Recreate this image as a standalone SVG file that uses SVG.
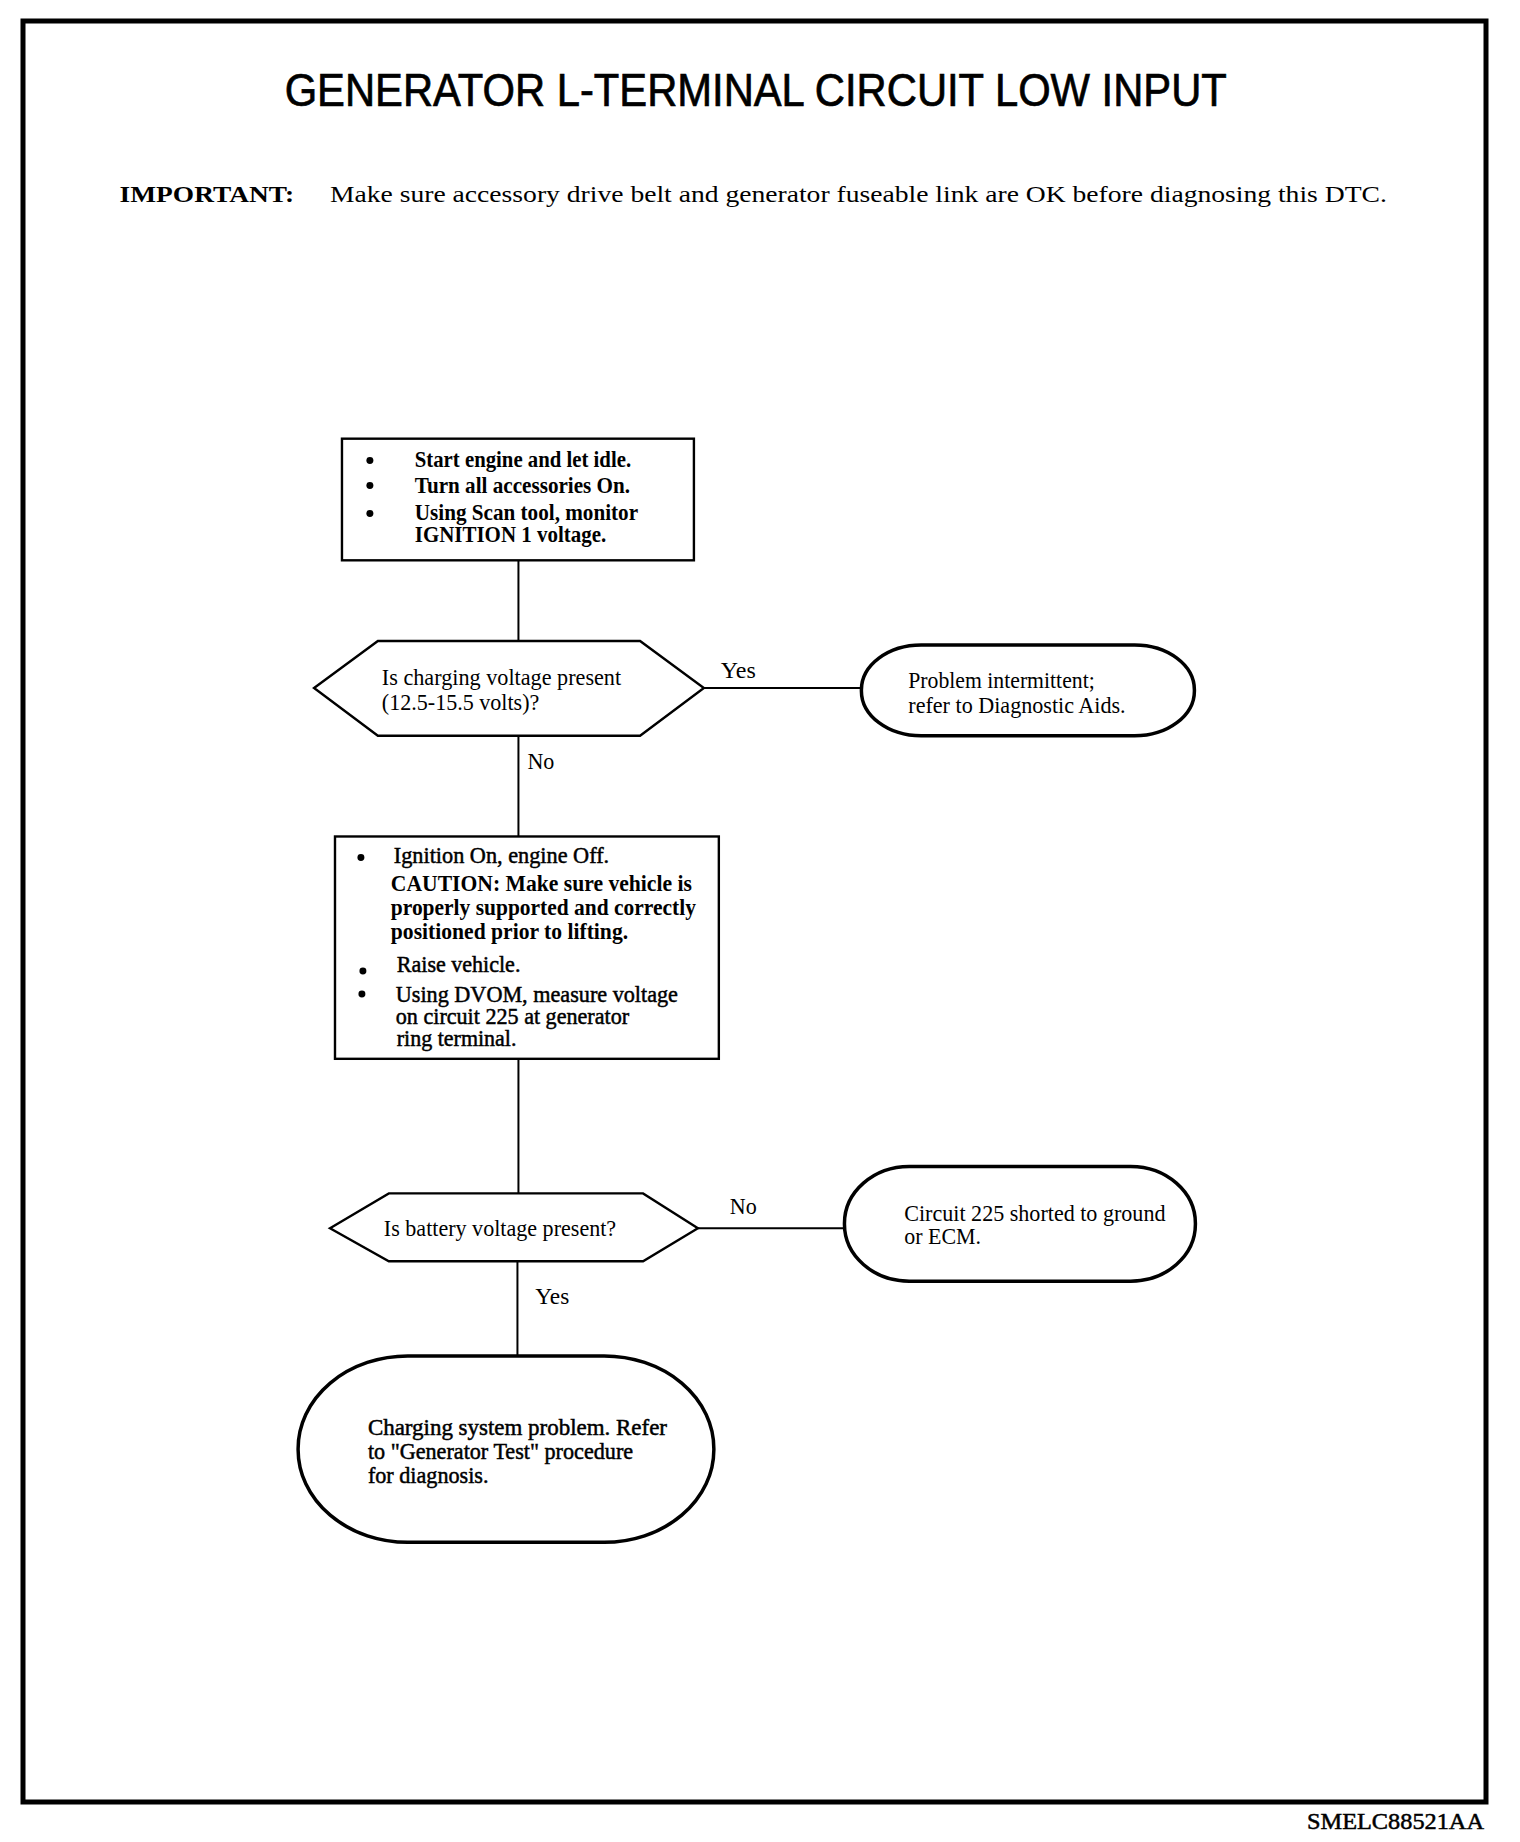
<svg xmlns="http://www.w3.org/2000/svg" width="1520" height="1842" viewBox="0 0 1520 1842">
<style>
.t{font-family:"Liberation Serif","Times New Roman",serif;font-size:23px;fill:#000}
.b{font-weight:bold}
.s{stroke:#000;stroke-width:0.5}
.box{fill:#fff;stroke:#000;stroke-width:2.4}
.term{fill:#fff;stroke:#000;stroke-width:3.5}
.con{stroke:#000;stroke-width:2;fill:none}
</style>
<rect width="1520" height="1842" fill="#fff"/>
<rect x="23" y="21" width="1463" height="1781" fill="none" stroke="#000" stroke-width="5"/>
<g transform="scale(0.997)">
<text x="758" y="106" text-anchor="middle" font-family="Liberation Sans,Arial,sans-serif" font-size="46" stroke="#000" stroke-width="0.7" textLength="945" lengthAdjust="spacingAndGlyphs">GENERATOR L-TERMINAL CIRCUIT LOW INPUT</text>
<text class="t b" x="120" y="203" font-size="29" textLength="175" lengthAdjust="spacingAndGlyphs">IMPORTANT:</text>
<text class="t" x="331" y="203" font-size="29" textLength="1060" lengthAdjust="spacingAndGlyphs">Make sure accessory drive belt and generator fuseable link are OK before diagnosing this DTC.</text>
<g id="connectors">
<line class="con" x1="520" y1="562" x2="520" y2="643"/>
<line class="con" x1="706" y1="690" x2="864" y2="690"/>
<line class="con" x1="520" y1="738" x2="520" y2="839"/>
<line class="con" x1="520" y1="1062" x2="520" y2="1197"/>
<line class="con" x1="700" y1="1232" x2="847" y2="1232"/>
<line class="con" x1="519" y1="1265" x2="519" y2="1360"/>
<text class="t" x="723" y="680" textLength="35" lengthAdjust="spacingAndGlyphs">Yes</text>
<text class="t" x="529" y="771" textLength="27" lengthAdjust="spacingAndGlyphs">No</text>
<text class="t" x="732" y="1218" textLength="27" lengthAdjust="spacingAndGlyphs">No</text>
<text class="t" x="537" y="1308" textLength="34" lengthAdjust="spacingAndGlyphs">Yes</text>
</g>
<g id="box1">
<rect class="box" x="343" y="440" width="353" height="122"/>
<circle cx="371" cy="462" r="3.5"/>
<circle cx="371" cy="487" r="3.5"/>
<circle cx="371" cy="515" r="3.5"/>
<text class="t b" x="416" y="468" textLength="217" lengthAdjust="spacingAndGlyphs">Start engine and let idle.</text>
<text class="t b" x="416" y="494" textLength="216" lengthAdjust="spacingAndGlyphs">Turn all accessories On.</text>
<text class="t b" x="416" y="522" textLength="224" lengthAdjust="spacingAndGlyphs">Using Scan tool, monitor</text>
<text class="t b" x="416" y="544" textLength="192" lengthAdjust="spacingAndGlyphs">IGNITION 1 voltage.</text>
</g>
<g id="decision1">
<polygon class="box" points="315,690 379,643 642,643 706,690 642,738 379,738"/>
<text class="t" x="383" y="687" textLength="240" lengthAdjust="spacingAndGlyphs">Is charging voltage present</text>
<text class="t" x="383" y="712" textLength="158" lengthAdjust="spacingAndGlyphs">(12.5-15.5 volts)?</text>
</g>
<g id="term1">
<rect class="term" x="864" y="647" width="334" height="91" rx="60" ry="45"/>
<text class="t" x="911" y="690" textLength="187" lengthAdjust="spacingAndGlyphs">Problem intermittent;</text>
<text class="t" x="911" y="715" textLength="218" lengthAdjust="spacingAndGlyphs">refer to Diagnostic Aids.</text>
</g>
<g id="box2">
<rect class="box" x="336" y="839" width="385" height="223"/>
<circle cx="362" cy="860" r="3.5"/>
<circle cx="364" cy="974" r="3.5"/>
<circle cx="363" cy="997" r="3.5"/>
<text class="t s" x="395" y="866" textLength="216" lengthAdjust="spacingAndGlyphs">Ignition On, engine Off.</text>
<text class="t b" x="392" y="894" textLength="302" lengthAdjust="spacingAndGlyphs">CAUTION: Make sure vehicle is</text>
<text class="t b" x="392" y="918" textLength="306" lengthAdjust="spacingAndGlyphs">properly supported and correctly</text>
<text class="t b" x="392" y="942" textLength="238" lengthAdjust="spacingAndGlyphs">positioned prior to lifting.</text>
<text class="t s" x="398" y="975" textLength="124" lengthAdjust="spacingAndGlyphs">Raise vehicle.</text>
<text class="t s" x="397" y="1005" textLength="283" lengthAdjust="spacingAndGlyphs">Using DVOM, measure voltage</text>
<text class="t s" x="397" y="1027" textLength="234" lengthAdjust="spacingAndGlyphs">on circuit 225 at generator</text>
<text class="t s" x="398" y="1049" textLength="120" lengthAdjust="spacingAndGlyphs">ring terminal.</text>
</g>
<g id="decision2">
<polygon class="box" points="331,1232 390,1197 645,1197 700,1232 645,1265 390,1265"/>
<text class="t" x="385" y="1240" textLength="233" lengthAdjust="spacingAndGlyphs">Is battery voltage present?</text>
</g>
<g id="term2">
<rect class="term" x="847" y="1170" width="352" height="115" rx="65" ry="57"/>
<text class="t" x="907" y="1225" textLength="262" lengthAdjust="spacingAndGlyphs">Circuit 225 shorted to ground</text>
<text class="t" x="907" y="1248" textLength="77" lengthAdjust="spacingAndGlyphs">or ECM.</text>
</g>
<g id="term3">
<rect class="term" x="299" y="1360" width="417" height="187" rx="110" ry="93"/>
<text class="t s" x="369" y="1439" textLength="300" lengthAdjust="spacingAndGlyphs">Charging  system problem.  Refer</text>
<text class="t s" x="369" y="1463" textLength="266" lengthAdjust="spacingAndGlyphs">to "Generator Test" procedure</text>
<text class="t s" x="369" y="1487" textLength="121" lengthAdjust="spacingAndGlyphs">for diagnosis.</text>
</g>
</g>
<text class="t s" x="1484" y="1829" text-anchor="end" font-size="23" textLength="177" lengthAdjust="spacingAndGlyphs">SMELC88521AA</text>
</svg>
